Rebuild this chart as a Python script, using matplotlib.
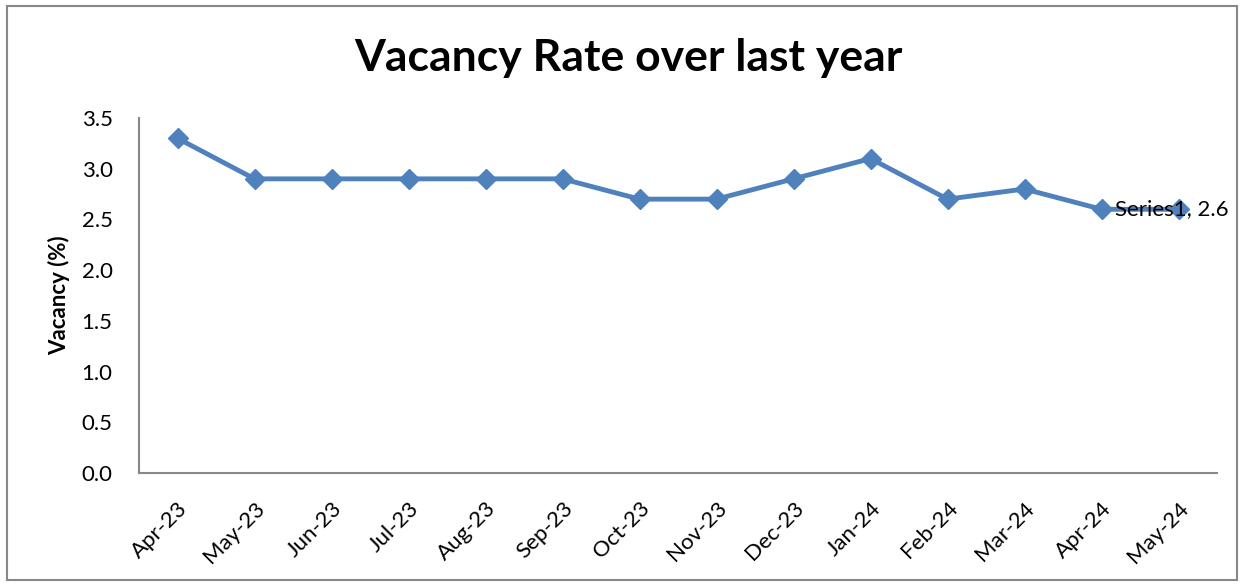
import matplotlib
matplotlib.use("Agg")
import matplotlib.pyplot as plt
from matplotlib.patches import Rectangle

months = ["Apr-23", "May-23", "Jun-23", "Jul-23", "Aug-23", "Sep-23", "Oct-23",
          "Nov-23", "Dec-23", "Jan-24", "Feb-24", "Mar-24", "Apr-24", "May-24"]
vacancy = [3.3, 2.9, 2.9, 2.9, 2.9, 2.9, 2.7, 2.7, 2.9, 3.1, 2.7, 2.8, 2.6, 2.6]
yticks = [0.0, 0.5, 1.0, 1.5, 2.0, 2.5, 3.0, 3.5]

plt.rcParams['font.family'] = ['Lato', 'DejaVu Sans']

fig = plt.figure(figsize=(12.44, 5.87), dpi=100)
fig.patches.append(Rectangle((7/1244, 7/587), 1230/1244, 574/587, transform=fig.transFigure,
                             fill=False, edgecolor='#888888', linewidth=1.5))

ax = fig.add_axes([139/1244, 114/587, 1078/1244, 355/587])
x = list(range(len(months)))
ax.plot(x, vacancy, color='#4F81BD', linewidth=3.5, marker='D', markersize=10,
        markerfacecolor='#4F81BD', markeredgecolor='#4F81BD', solid_joinstyle='miter')

ax.set_xlim(-0.5, len(months) - 0.5)
ax.set_ylim(0, 3.5)
ax.set_yticks(yticks)
ax.set_yticklabels([f"{v:.1f}" for v in yticks], fontsize=16)
ax.set_xticks(x)
ax.set_xticklabels(months, rotation=45, ha='right', rotation_mode='anchor', fontsize=16)
ax.tick_params(axis='y', length=0, pad=19)
ax.tick_params(axis='x', length=0, pad=18)

for s in ['top', 'right']:
    ax.spines[s].set_visible(False)
for s in ['left', 'bottom']:
    ax.spines[s].set_color('#888888')
    ax.spines[s].set_linewidth(1.5)

ax.set_ylabel("Vacancy (%)", fontsize=16, fontweight='bold', labelpad=8)
ax.annotate(f"Series1, {vacancy[-1]}", xy=(x[-1], vacancy[-1]), xytext=(-46, 0),
            textcoords='offset points', ha='left', va='center', fontsize=16)

fig.text(628/1244, 1 - 58/587, "Vacancy Rate over last year", ha='center', va='center',
         fontsize=32, fontweight='bold')

fig.savefig("out.png", dpi=100)
